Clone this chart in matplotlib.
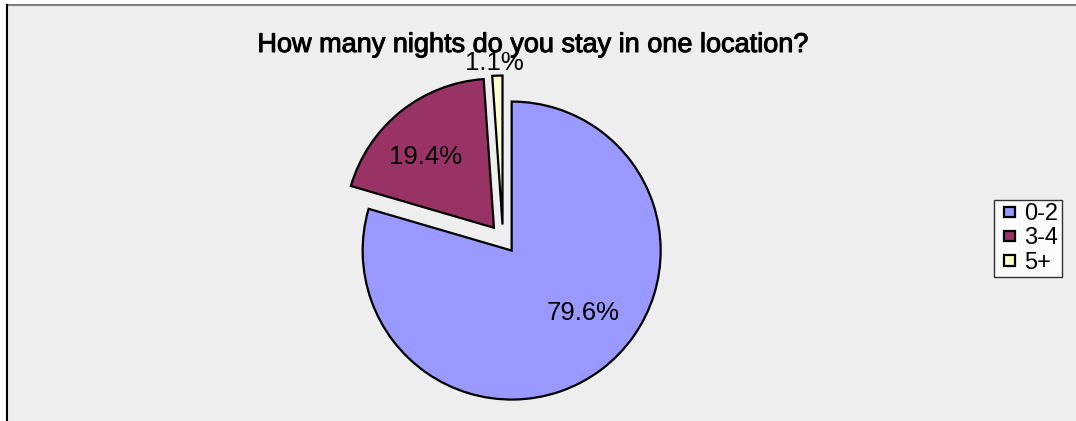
import matplotlib
matplotlib.use("Agg")
import matplotlib.pyplot as plt
import matplotlib.patheffects as pe
from matplotlib.patches import Rectangle
from matplotlib.lines import Line2D
from matplotlib.legend_handler import HandlerPatch
import numpy as np

plt.rcParams["font.family"] = ["Liberation Sans", "DejaVu Sans"]

title = "How many nights do you stay in one location?"
labels = ["0-2", "3-4", "5+"]
shares = [79.6, 19.4, 1.1]
colors = ["#9999FF", "#993366", "#FFFFCC"]

W, H = 1076, 421
fig = plt.figure(figsize=(W / 100, H / 100), dpi=100, facecolor="white")

# grey chart area with its left / top border (screenshot is cropped)
fig.add_artist(Rectangle((7 / W, 0), 1, 1 - 5 / H, transform=fig.transFigure,
                         facecolor="#EEEEEE", edgecolor="none", zorder=0))
fig.add_artist(Line2D([7 / W, 1], [1 - 5 / H] * 2, color="#808080", lw=1.5))
fig.add_artist(Line2D([7 / W] * 2, [0, 1 - 5 / H], color="black", lw=1.5))

# pie centre / radius in pixels
cx, cy, r, half = 503, 239, 149, 200
ax = fig.add_axes([(cx - half) / W, (H - cy - half) / H, 2 * half / W, 2 * half / H])
wedges, _ = ax.pie(shares, colors=colors, startangle=90, counterclock=False,
                   explode=[0.097] * len(shares),
                   wedgeprops=dict(edgecolor="black", linewidth=1.6))
ax.set_xlim(-half / r, half / r)
ax.set_ylim(-half / r, half / r)
ax.set_aspect("equal")
ax.axis("off")

# percentage labels, Excel-like placement (small slice labelled outside)
dists = [0.637, 0.66, 1.085]
shifts = [12, 5, 0.8]   # degrees
for w, s, d, sh in zip(wedges, shares, dists, shifts):
    ang = np.deg2rad((w.theta1 + w.theta2) / 2 + sh)
    x = w.center[0] + d * np.cos(ang)
    y = w.center[1] + d * np.sin(ang)
    ax.text(x, y, f"{s:.1f}%", ha="center", va="center", fontsize=18.5)

fig.text(533 / W, 1 - 52 / H, title, ha="center", va="baseline", fontsize=19.5,
         path_effects=[pe.withStroke(linewidth=0.7, foreground="black")])


def small_square(legend, orig_handle, xdescent, ydescent, width, height, fontsize):
    s = 0.44 * fontsize
    return Rectangle((width - s - xdescent, (height - s) / 2 - ydescent), s, s)


fig.legend(wedges, labels, loc="center left", bbox_to_anchor=(994 / W, 1 - 238.5 / H),
           handler_map={w: HandlerPatch(patch_func=small_square) for w in wedges},
           frameon=True, fancybox=False, edgecolor="black", facecolor="white",
           fontsize=17, handlelength=0.72, handleheight=0.7, handletextpad=0.4,
           borderpad=0.15, labelspacing=0.1, borderaxespad=0)

fig.savefig("out.png", dpi=100)
